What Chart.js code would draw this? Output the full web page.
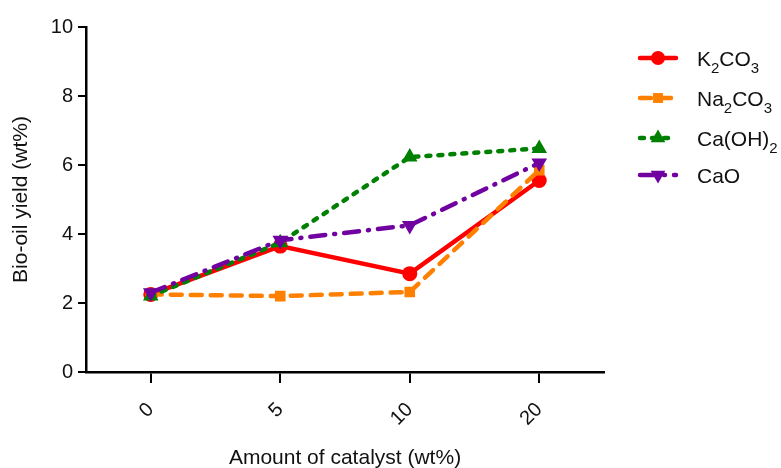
<!DOCTYPE html>
<html>
<head>
<meta charset="utf-8">
<script src="https://cdn.jsdelivr.net/npm/chart.js@4/dist/chart.umd.min.js"></script>
<style>
html,body{margin:0;padding:0;background:#fff;}
#wrap{width:781px;height:468px;}
</style>
</head>
<body>
<div id="wrap"><canvas id="c" width="781" height="468"></canvas></div>
<script>
const categories = ['0', '5', '10', '20'];
const k2co3 = [2.25, 3.65, 2.85, 5.55];
const na2co3 = [2.25, 2.2, 2.32, 5.85];
const caoh2 = [2.2, 3.75, 6.23, 6.48];
const cao = [2.3, 3.82, 4.25, 6.06];
const yTicks = [0, 2, 4, 6, 8, 10];
const seriesNames = ['K_2CO_3', 'Na_2CO_3', 'Ca(OH)_2', 'CaO'];

const FONT = '"Liberation Sans", Arial, sans-serif';
const TXT = '#111';

function ds(label, data, color, dash, style, radius, rot, order) {
  return {
    label, data, borderColor: color, backgroundColor: color,
    borderWidth: 4.5, borderDash: dash, borderCapStyle: 'round',
    pointStyle: style, pointRadius: radius, pointRotation: rot,
    pointBorderWidth: 0, pointBackgroundColor: color, pointBorderColor: color,
    tension: 0, order
  };
}

const legendPlugin = {
  id: 'subLegend',
  afterDraw(chart) {
    const ctx = chart.ctx;
    const rows = [58, 98, 138, 175];
    chart.data.datasets.forEach((d, i) => {
      const y = rows[i];
      ctx.save();
      ctx.strokeStyle = d.borderColor;
      ctx.lineWidth = 4.5;
      ctx.lineCap = 'round';
      ctx.setLineDash(d.borderDash || []);
      ctx.beginPath();
      ctx.moveTo(640, y);
      ctx.lineTo(676, y);
      ctx.stroke();
      ctx.setLineDash([]);
      ctx.fillStyle = d.pointBackgroundColor;
      ctx.strokeStyle = d.pointBorderColor;
      ctx.lineWidth = 0.01;
      Chart.helpers.drawPoint(ctx, {pointStyle: d.pointStyle, radius: d.pointRadius - 0.5, rotation: d.pointRotation, borderWidth: 0}, 658, y);
      const parts = seriesNames[i].split('_');
      let x = 697;
      ctx.fillStyle = TXT;
      ctx.textBaseline = 'alphabetic';
      ctx.textAlign = 'left';
      parts.forEach((p, j) => {
        let s = p;
        if (j > 0) {
          const sub = p.charAt(0);
          ctx.font = '15px ' + FONT;
          ctx.fillText(sub, x, y + 15);
          x += ctx.measureText(sub).width;
          s = p.slice(1);
        }
        ctx.font = '21px ' + FONT;
        ctx.fillText(s, x, y + 8);
        x += ctx.measureText(s).width;
      });
      ctx.restore();
    });
  }
};

new Chart(document.getElementById('c'), {
  type: 'line',
  data: {
    labels: categories,
    datasets: [
      ds(seriesNames[0], k2co3, '#FF0000', [], 'circle', 7.5, 0, 3),
      ds(seriesNames[1], na2co3, '#FF8000', [11, 9], 'rect', 7.5, 0, 2),
      ds(seriesNames[2], caoh2, '#008000', [4, 8], 'triangle', 9, 0, 1),
      ds(seriesNames[3], cao, '#7000A0', [15, 9, 1, 9], 'triangle', 9, 180, 0)
    ]
  },
  options: {
    responsive: false,
    animation: false,
    devicePixelRatio: 1,
    layout: { padding: { left: 0, right: 177, top: 27, bottom: 0 } },
    plugins: { legend: { display: false }, tooltip: { enabled: false } },
    scales: {
      x: {
        type: 'category',
        offset: true,
        grid: { display: true, drawOnChartArea: false, drawTicks: true, tickLength: 11, color: '#000', lineWidth: 2, offset: false },
        border: { display: true, color: '#000', width: 2.5 },
        ticks: { color: TXT, font: { family: FONT, size: 20 }, minRotation: 45, maxRotation: 45, padding: 15 },
        title: { display: true, text: 'Amount of catalyst (wt%)', color: TXT, font: { family: FONT, size: 21 }, padding: { top: 8, bottom: -3 } },
        afterFit(s) { s.height = 96; }
      },
      y: {
        min: 0, max: 10,
        afterBuildTicks(s) { s.ticks = yTicks.map(v => ({ value: v })); },
        grid: { display: true, drawOnChartArea: false, drawTicks: true, tickLength: 8, color: '#000', lineWidth: 2 },
        border: { display: true, color: '#000', width: 2.5 },
        ticks: { color: TXT, font: { family: FONT, size: 20 }, padding: 5 },
        title: { display: true, text: 'Bio-oil yield (wt%)', color: TXT, font: { family: FONT, size: 21 }, padding: { top: 9, bottom: 8 } },
        afterFit(s) { s.width = 86; }
      }
    }
  },
  plugins: [legendPlugin]
});
</script>
</body>
</html>
